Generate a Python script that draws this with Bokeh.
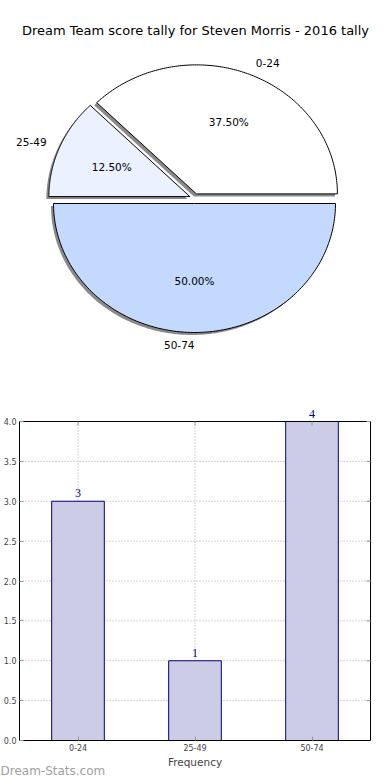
import numpy as np
from bokeh.plotting import figure
from bokeh.layouts import column
from bokeh.models import (Range1d, Label, LabelSet, ColumnDataSource,
                          NumeralTickFormatter, FixedTicker)
from bokeh.core.properties import value
from bokeh.embed import file_html
from bokeh.resources import INLINE

# ---------------- data ----------------
categories = ["0-24", "25-49", "50-74"]
counts = [3, 1, 4]
pie_colors = ["#ffffff", "#ebf1fe", "#c4d9fe"]
title_text = "Dream Team score tally for Steven Morris - 2016 tally"
x_label = "Frequency"
y_ticks = [0.0, 0.5, 1.0, 1.5, 2.0, 2.5, 3.0, 3.5, 4.0]
watermark = "Dream-Stats.com"

FONT = "DejaVu Sans"
W = 390

# ---------------- pie ----------------
p1 = figure(width=W, height=380, x_range=Range1d(-194, 196), y_range=Range1d(-182, 198),
            output_backend="svg", toolbar_location=None, min_border=0,
            x_axis_location=None, y_axis_location=None)
p1.grid.visible = False
p1.outline_line_color = None

rx, ry, explode, sh = 141.0, 129.0, 5.0, 2.5
cnt = np.array(counts, dtype=float)
frac = cnt / cnt.sum()
ends = np.cumsum(frac)
starts = ends - frac

xs, ys, sxs, sys_ = [], [], [], []
lx, ly, la, px, py, pt = [], [], [], [], [], []
for s, e, f in zip(starts, ends, frac):
    a0, a1 = 2 * np.pi * s, 2 * np.pi * e
    mid = (a0 + a1) / 2
    ox, oy = explode * np.cos(mid), explode * np.sin(mid)
    th = np.linspace(a0, a1, 160)
    wx = np.concatenate([[ox], ox + rx * np.cos(th)])
    wy = np.concatenate([[oy], oy + ry * np.sin(th)])
    xs.append(list(wx)); ys.append(list(wy))
    sxs.append(list(wx - sh)); sys_.append(list(wy - sh))
    lx.append(ox + 1.1 * rx * np.cos(mid)); ly.append(oy + 1.1 * ry * np.sin(mid))
    la.append("left" if np.cos(mid) > 0 else "right")
    px.append(ox + 0.6 * rx * np.cos(mid)); py.append(oy + 0.6 * ry * np.sin(mid))
    pt.append("%.2f%%" % (f * 100))

p1.patches(sxs, sys_, fill_color="#8a8a8a", line_color=None)
p1.patches(xs, ys, fill_color=pie_colors, line_color="black", line_width=1)

lsrc = ColumnDataSource(dict(x=lx, y=ly, t=categories, a=la))
p1.text(x="x", y="y", text="t", text_align="a", source=lsrc, text_baseline="middle",
        text_font=value(FONT), text_font_size="10.5px", text_color="black")
psrc = ColumnDataSource(dict(x=px, y=py, t=pt))
p1.text(x="x", y="y", text="t", source=psrc, text_align="center", text_baseline="middle",
        text_font=value(FONT), text_font_size="10.5px", text_color="black")

p1.add_layout(Label(x=195, y=350, x_units="screen", y_units="screen", text=title_text,
                    text_align="center", text_baseline="middle", text_font=FONT,
                    text_font_style="normal", text_font_size="13px", text_color="black"))

# ---------------- bar ----------------
ncat = len(categories)
ymax = y_ticks[-1]
xpos = [i + 0.5 for i in range(ncat)]
H2 = 400
pad_l, pad_r, pad_t, pad_b = 19, 20, 41, 40          # frame margins in pixels
sx = (W - pad_l - pad_r) / ncat
sy = (H2 - pad_t - pad_b) / ymax

p2 = figure(width=W, height=H2,
            x_range=Range1d(-pad_l / sx, ncat + pad_r / sx),
            y_range=Range1d(-pad_b / sy, ymax + pad_t / sy),
            output_backend="svg", toolbar_location=None, min_border=0)
p2.outline_line_color = None
p2.grid.visible = False

# dotted grid, limited to the plotting box
gkw = dict(line_dash="1 2", line_color="#a8a8a8", line_width=1)
p2.segment(x0=[0] * len(y_ticks), y0=y_ticks, x1=[ncat] * len(y_ticks), y1=y_ticks, **gkw)
p2.segment(x0=xpos, y0=[0] * ncat, x1=xpos, y1=[ymax] * ncat, **gkw)

p2.vbar(x=xpos, top=counts, width=0.45, fill_color="#cccce6", line_color="#000080",
        line_width=1)
bsrc = ColumnDataSource(dict(x=xpos, y=counts, t=[str(c) for c in counts]))
p2.add_layout(LabelSet(x="x", y="y", text="t", source=bsrc, y_offset=4,
                       text_align="center", text_baseline="alphabetic", text_font=FONT,
                       text_font_size="12px", text_color="#000080"))

p2.xaxis.ticker = FixedTicker(ticks=xpos)
p2.xaxis.major_label_overrides = {x: c for x, c in zip(xpos, categories)}
p2.yaxis.ticker = FixedTicker(ticks=y_ticks)
p2.yaxis.formatter = NumeralTickFormatter(format="0.0")
p2.xaxis.fixed_location = 0
p2.yaxis.fixed_location = 0
p2.xaxis.bounds = (0, ncat)
p2.yaxis.bounds = (0, ymax)
for ax in (p2.xaxis, p2.yaxis):
    ax.major_label_text_font = FONT
    ax.major_label_text_font_size = "8px"
    ax.major_tick_in = 4
    ax.major_tick_out = 0
    ax.major_tick_line_color = "#999999"
    ax.minor_tick_line_color = None
    ax.axis_line_color = "black"
    ax.major_label_standoff = 3
p2.xaxis.axis_label = x_label
p2.xaxis.axis_label_text_font = FONT
p2.xaxis.axis_label_text_font_size = "10.5px"
p2.xaxis.axis_label_text_font_style = "normal"
p2.xaxis.axis_label_standoff = 2

# top and right edges of the frame, with inward ticks
p2.multi_line(xs=[[0, ncat, ncat]], ys=[[ymax, ymax, 0]], line_color="black", line_width=1)
p2.ray(x=[ncat] * len(y_ticks), y=y_ticks, length=4, length_units="screen", angle=np.pi,
       line_color="#999999", line_width=1)
p2.ray(x=xpos, y=[ymax] * ncat, length=4, length_units="screen",
       angle=-np.pi / 2, line_color="#999999", line_width=1)

p2.add_layout(Label(x=0, y=10, x_units="screen", y_units="screen", text=watermark,
                    text_align="left", text_baseline="middle", text_font=FONT,
                    text_font_style="normal", text_font_size="12px", text_color="#a0a0a0"))

layout = column(p1, p2)
open("out.html", "w").write(file_html(layout, INLINE))
